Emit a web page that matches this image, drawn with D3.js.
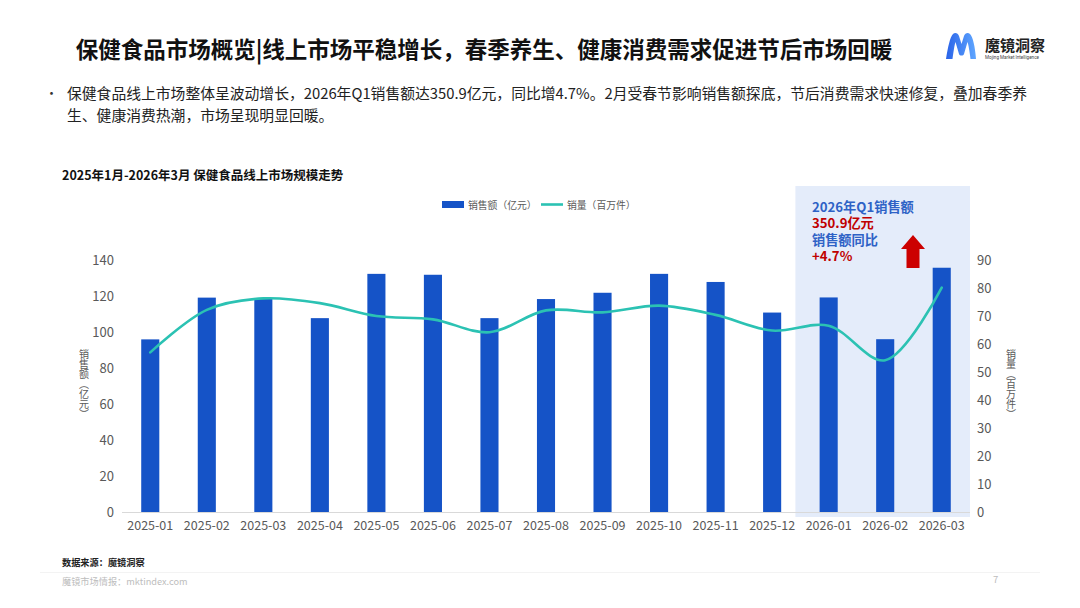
<!DOCTYPE html>
<html><head><meta charset="utf-8">
<script src="https://cdn.jsdelivr.net/npm/d3@7/dist/d3.min.js"></script>
<style>
html,body{margin:0;padding:0;background:#fff;}
svg{display:block;font-family:"Noto Sans CJK SC","Noto Sans",sans-serif;}
</style></head>
<body>
<svg id="c" width="1080" height="608"></svg>
<script>
const months = ["2025-01","2025-02","2025-03","2025-04","2025-05","2025-06","2025-07","2025-08","2025-09","2025-10","2025-11","2025-12","2026-01","2026-02","2026-03"];
const salesValues = [95.9, 119.1, 118.6, 107.7, 132.3, 131.8, 107.7, 118.3, 121.8, 132.3, 127.8, 110.8, 119.2, 96.0, 135.7];
const volumeValues = [57.0, 72.2, 76.3, 74.6, 70.0, 68.8, 64.2, 72.0, 71.3, 73.7, 70.4, 64.8, 66.5, 54.2, 80.1];
const leftTicks = [0, 20, 40, 60, 80, 100, 120, 140];
const rightTicks = [0, 10, 20, 30, 40, 50, 60, 70, 80, 90];
const highlightMonths = ["2026-01","2026-02","2026-03"];
const seriesNames = ["销售额（亿元）", "销量（百万件）"];
const axisTitles = ["销售额（亿元）", "销量（百万件）"];
const titleText = "保健食品市场概览|线上市场平稳增长，春季养生、健康消费需求促进节后市场回暖";
const bulletLines = ["保健食品线上市场整体呈波动增长，2026年Q1销售额达350.9亿元，同比增4.7%。2月受春节影响销售额探底，节后消费需求快速修复，叠加春季养", "生、健康消费热潮，市场呈现明显回暖。"];
const chartTitle = "2025年1月-2026年3月 保健食品线上市场规模走势";
const annotation = [["2026年Q1销售额","blue"],["350.9亿元","red"],["销售额同比","blue"],["+4.7%","red"]];

const svg = d3.select("#c");
const BLUE = "#1553C7", TEAL = "#2BC2B3", GREY = "#595959";

// Header
svg.append("text").attr("x", 484).attr("y", 58).attr("text-anchor","middle")
  .attr("font-size", 22.5).attr("font-weight", 700).attr("fill","#111").text(titleText);

// Logo
const defs = svg.append("defs");
const g1 = defs.append("linearGradient").attr("id","lg").attr("x1","0").attr("x2","1").attr("y1","0").attr("y2","0");
g1.append("stop").attr("offset","0").attr("stop-color","#2A63E8");
g1.append("stop").attr("offset","1").attr("stop-color","#5FA6FF");
svg.append("path").attr("transform","translate(946,33)")
  .attr("d","M0,26 C2,14 4,4 7,1 C9,-1 12,0 13,3 L15.5,11 L18,3 C19,0 22,-1 24,1 C27,4 29,14 30,26 L24.5,26 C23.5,18 22.5,12 21.5,9 L18,21 C17.3,23 13.7,23 13,21 L9.5,9 C8.5,12 7.5,18 6.5,26 Z")
  .attr("fill","url(#lg)");
svg.append("text").attr("x", 985).attr("y", 51).attr("font-size", 15).attr("font-weight",700).attr("fill","#222").text("魔镜洞察");
svg.append("text").attr("x", 985).attr("y", 58.5).attr("font-size", 4.6).attr("fill","#444").attr("font-family","Roboto, sans-serif").text("Mojing Market Intelligence");

// Bullet
svg.append("text").attr("x", 45).attr("y", 98).attr("font-size", 13).attr("fill","#333").text("•");
bulletLines.forEach((l,i)=>{
  svg.append("text").attr("x", 67).attr("y", 99 + i*21.5).attr("font-size", 14.8).attr("fill","#222").text(l);
});

// Chart title
svg.append("text").attr("x", 62).attr("y", 180).attr("font-size", 12.5).attr("font-weight",700).attr("fill","#111").text(chartTitle);

// Scales
const x = d3.scaleBand().domain(months).range([122, 970]).padding(0);
const bw = x.bandwidth();
const barW = bw * 0.32;
const yL = d3.scaleLinear().domain([0, 140]).range([512, 260]);
const yR = d3.scaleLinear().domain([0, 90]).range([512, 260]);

// Highlight box
const hx0 = x(highlightMonths[0]) - 5;
svg.append("rect").attr("x", hx0).attr("y", 186)
  .attr("width", x(highlightMonths[highlightMonths.length-1]) + bw - hx0).attr("height", 517 - 186)
  .attr("fill", "#E4ECFA");

// Axis baseline
svg.append("line").attr("x1", 122).attr("x2", 970).attr("y1", 512.5).attr("y2", 512.5)
  .attr("stroke", "#D9D9D9").attr("stroke-width", 1);

// Bars
svg.append("g").selectAll("rect").data(months).join("rect")
  .attr("x", d => x(d) + bw/2 - barW/2)
  .attr("y", (d,i) => yL(salesValues[i]))
  .attr("width", barW)
  .attr("height", (d,i) => yL(0) - yL(salesValues[i]))
  .attr("fill", BLUE);

// Line
const line = d3.line().x((d,i) => x(months[i]) + bw/2).y(d => yR(d)).curve(d3.curveCatmullRom.alpha(0.5));
svg.append("path").datum(volumeValues).attr("d", line)
  .attr("fill","none").attr("stroke", TEAL).attr("stroke-width", 2.6).attr("stroke-linecap","round");

// Left axis
const axL = d3.axisLeft(yL).tickValues(leftTicks).tickSize(0).tickPadding(8);
const gL = svg.append("g").attr("transform","translate(122,0)").call(axL);
gL.select(".domain").remove();
gL.selectAll("text").attr("font-size", 13).attr("fill", GREY).attr("font-family",'"Noto Sans CJK SC",sans-serif');

// Right axis
const axR = d3.axisRight(yR).tickValues(rightTicks).tickSize(0).tickPadding(7);
const gR = svg.append("g").attr("transform","translate(970,0)").call(axR);
gR.select(".domain").remove();
gR.selectAll("text").attr("font-size", 13).attr("fill", GREY).attr("font-family",'"Noto Sans CJK SC",sans-serif');

// X axis
const axX = d3.axisBottom(x).tickSize(0).tickPadding(9);
const gX = svg.append("g").attr("transform","translate(0,512)").call(axX);
gX.select(".domain").remove();
gX.selectAll("text").attr("font-size", 12.5).attr("fill", GREY).attr("font-family",'"Noto Sans CJK SC",sans-serif');

// Axis titles (vertical writing)
svg.append("text").attr("x", 84).attr("y", 384).attr("text-anchor","middle")
  .style("writing-mode","vertical-rl").attr("font-size", 10).attr("fill", GREY).text(axisTitles[0]);
svg.append("text").attr("x", 1011).attr("y", 384).attr("text-anchor","middle")
  .style("writing-mode","vertical-rl").attr("font-size", 10).attr("fill", GREY).text(axisTitles[1]);

// Legend
const lg = svg.append("g");
lg.append("rect").attr("x", 442).attr("y", 201).attr("width", 22).attr("height", 7).attr("fill", BLUE);
lg.append("text").attr("x", 468).attr("y", 208.5).attr("font-size", 9.8).attr("fill", GREY).text(seriesNames[0]);
lg.append("line").attr("x1", 541).attr("x2", 563).attr("y1", 204.5).attr("y2", 204.5).attr("stroke", TEAL).attr("stroke-width", 2.6);
lg.append("text").attr("x", 567).attr("y", 208.5).attr("font-size", 9.8).attr("fill", GREY).text(seriesNames[1]);

// Annotation (single text block)
const ann = svg.append("text").attr("font-size", 13.2).attr("font-weight", 700);
annotation.forEach((a,i)=>{
  ann.append("tspan").attr("x", 812).attr("y", 212 + i*16.3)
    .attr("fill", a[1] === "blue" ? "#2E62C6" : "#C00000").text(a[0]);
});
// Red arrow
svg.append("path").attr("d","M913,235 L925,249 L919.5,249 L919.5,268 L906.5,268 L906.5,249 L901,249 Z").attr("fill","#CC0000");

// Footer
svg.append("text").attr("x", 62).attr("y", 566).attr("font-size", 9.2).attr("font-weight",700).attr("fill","#222").text("数据来源：魔镜洞察");
svg.append("line").attr("x1", 40).attr("x2", 1040).attr("y1", 572.5).attr("y2", 572.5).attr("stroke","#F3F3F3");
svg.append("text").attr("x", 62).attr("y", 585).attr("font-size", 9.2).attr("fill","#BDBDBD").text("魔镜市场情报：mktindex.com");
svg.append("text").attr("x", 993).attr("y", 583).attr("font-size", 9.5).attr("fill","#BDBDBD").text("7");
</script>
</body></html>
